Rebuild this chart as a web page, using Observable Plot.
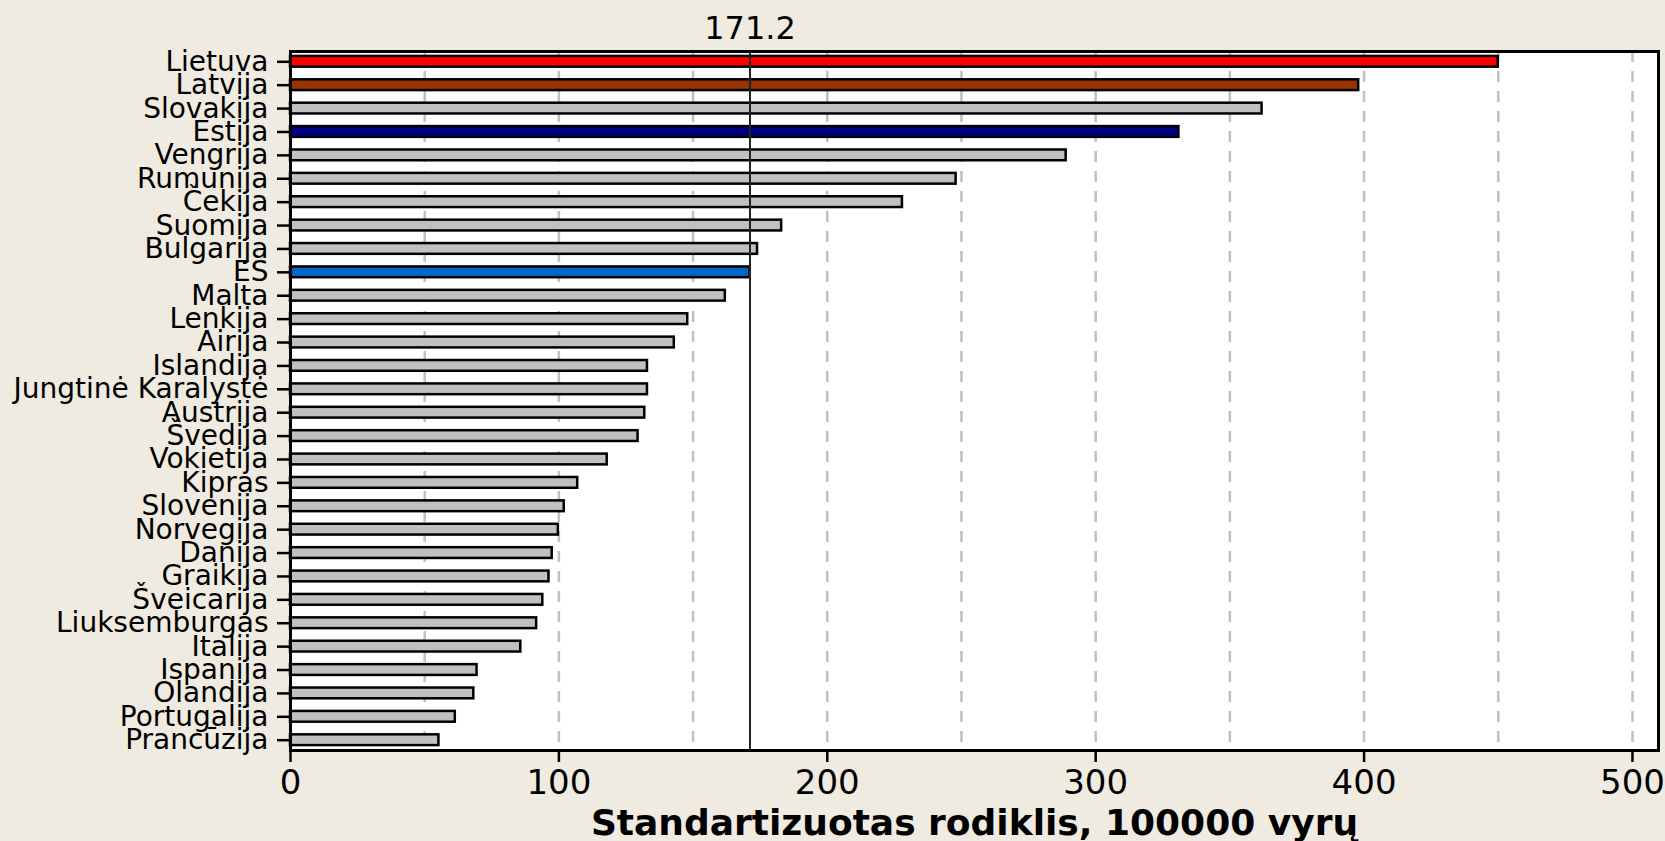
<!DOCTYPE html>
<html>
<head>
<meta charset="utf-8">
<script src="https://cdn.jsdelivr.net/npm/d3@7"></script>
<script src="https://cdn.jsdelivr.net/npm/@observablehq/plot@0.6"></script>
<style>
  html, body { margin: 0; padding: 0; background: #EFEBE1; }
  #chart svg { display: block; }
</style>
</head>
<body>
<div id="chart"></div>
<script>
const countries = [
  "Lietuva", "Latvija", "Slovakija", "Estija", "Vengrija", "Rumunija", "Čekija",
  "Suomija", "Bulgarija", "ES", "Malta", "Lenkija", "Airija", "Islandija",
  "Jungtinė Karalystė", "Austrija", "Švedija", "Vokietija", "Kipras", "Slovenija",
  "Norvegija", "Danija", "Graikija", "Šveicarija", "Liuksemburgas", "Italija",
  "Ispanija", "Olandija", "Portugalija", "Prancūzija"
];
const values = [
  450, 398, 362, 331, 289, 248, 228,
  183, 174, 171.2, 162, 148, 143, 133,
  133, 132, 129.5, 118, 107, 102,
  99.8, 97.5, 96.3, 94, 91.7, 85.8,
  69.5, 68.3, 61.4, 55.3
];
const esValue = 171.2;
const xTicks = [0, 100, 200, 300, 400, 500];
const gridTicks = [50, 100, 150, 200, 250, 300, 350, 400, 450, 500];
const xTitle = "Standartizuotas rodiklis, 100000 vyrų";
const highlightCountries = ["Lietuva", "Latvija", "Estija", "ES"];
const highlightColors = ["#FF0000", "#993300", "#000080", "#0066CC"];
const defaultColor = "#C0C0C0";

const data = countries.map((c, i) => ({country: c, value: values[i]}));
const colorOf = c => {
  const k = highlightCountries.indexOf(c);
  return k >= 0 ? highlightColors[k] : defaultColor;
};

const chart = Plot.plot({
  width: 1665,
  height: 841,
  marginLeft: 290,
  marginRight: 7,
  marginTop: 51,
  marginBottom: 91,
  style: {background: "#EFEBE1", fontFamily: "'DejaVu Sans', Verdana, sans-serif", color: "black", overflow: "visible"},
  x: {domain: [0, 509.7]},
  y: {domain: countries, paddingInner: 0.54, paddingOuter: 0.21, round: false},
  color: {type: "identity"},
  marks: [
    Plot.frame({fill: "white", stroke: null}),
    Plot.ruleX(gridTicks, {stroke: "#C0C0C0", strokeWidth: 2.5, strokeDasharray: "11,9"}),
    Plot.barX(data, {x: "value", y: "country", fill: d => colorOf(d.country), stroke: "black", strokeWidth: 2.5}),
    Plot.ruleX([esValue], {stroke: "#222222", strokeWidth: 2}),
    Plot.frame({stroke: "black", strokeWidth: 3}),
    Plot.axisX({ticks: xTicks, tickSize: 12, tickPadding: 7, fontSize: 34, label: null, stroke: "black", strokeWidth: 2.5}),
    Plot.axisY({tickSize: 13, tickPadding: 9, fontSize: 28, label: null, stroke: "black", strokeWidth: 2.5}),
    Plot.text([esValue], {x: d => d, frameAnchor: "top", dy: -35, text: d => d.toFixed(1), fontSize: 32, fill: "black"}),
    Plot.text([xTitle], {frameAnchor: "bottom", dy: 84, text: d => d, fontSize: 36, fontWeight: "bold", fill: "black"})
  ]
});
document.getElementById("chart").appendChild(chart);
</script>
</body>
</html>
